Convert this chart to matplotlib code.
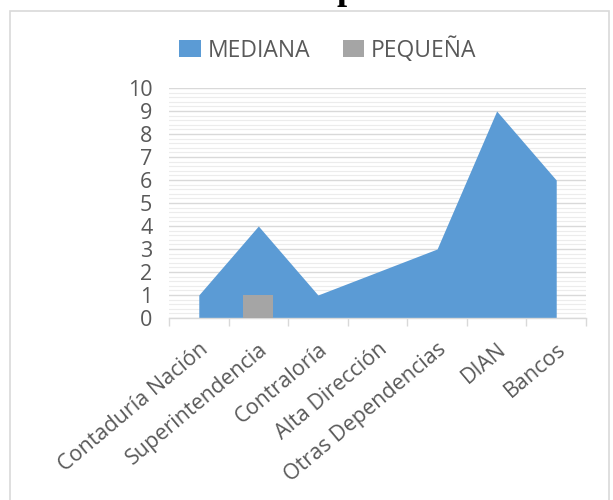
import matplotlib
matplotlib.use("Agg")
import matplotlib.pyplot as plt
from matplotlib.patches import Rectangle, Patch
from matplotlib.ticker import MultipleLocator, FixedLocator
import numpy as np

categories = ["Contaduría Nación", "Superintendencia", "Contraloría", "Alta Dirección",
              "Otras Dependencias", "DIAN", "Bancos"]
mediana = [1, 4, 1, 2, 3, 9, 6]
pequena = [0, 1, 0, 0, 0, 0, 0]
series_names = ["MEDIANA", "PEQUEÑA"]
yticks = list(range(0, 11))

BLUE = "#5b9bd5"
GRAY = "#a5a5a5"
TXT = "#595959"
FONT = ["Open Sans", "DejaVu Sans"]

W, H = 613, 500
fig = plt.figure(figsize=(W / 100, H / 100), dpi=100)

# chart frame
fig.patches.append(Rectangle((10 / W, -0.05), (609 - 10) / W, (H - 11) / H + 0.05,
                             transform=fig.transFigure, fill=False,
                             edgecolor="#d9d9d9", linewidth=1.2))

# cut-off title fragment
fig.text(347 / W, 1 + 1.5 / H, "p", family=["Liberation Serif", "DejaVu Serif"],
         fontweight="bold", fontsize=26, ha="center", va="baseline", color="black")

ax = fig.add_axes([169 / W, 1 - 318 / H, (586 - 169) / W, (318 - 88) / H])
x = np.arange(len(categories))
ax.fill_between(x, 0, mediana, color=BLUE, linewidth=0, zorder=2)
ax.bar(x, pequena, width=0.5, color=GRAY, zorder=3)

ax.set_xlim(-0.5, len(categories) - 0.5)
ax.set_ylim(0, 10)
ax.set_yticks(yticks)
ax.yaxis.set_minor_locator(MultipleLocator(0.2))
ax.grid(axis="y", which="minor", color="#ececec", linewidth=0.8, zorder=0)
ax.grid(axis="y", which="major", color="#d9d9d9", linewidth=1.0, zorder=0)
ax.set_axisbelow(True)

ax.set_xticks(x)
ax.set_xticklabels(categories, rotation=40, ha="right", rotation_mode="anchor",
                   family=FONT, fontsize=15.5, color=TXT)
ax.xaxis.set_minor_locator(FixedLocator(np.arange(-0.5, len(categories), 1.0)))
ax.tick_params(axis="x", which="major", length=0, pad=15)
ax.tick_params(axis="x", which="minor", length=6, color="#d9d9d9", width=1)
ax.tick_params(axis="y", which="both", length=0, pad=12)
for lab in ax.get_yticklabels():
    lab.set_family(FONT)
    lab.set_fontsize(15.5)
    lab.set_color(TXT)

for s in ["top", "right", "left"]:
    ax.spines[s].set_visible(False)
ax.spines["bottom"].set_color("#d9d9d9")
ax.spines["bottom"].set_linewidth(1.0)

handles = [Patch(facecolor=BLUE, edgecolor="none"), Patch(facecolor=GRAY, edgecolor="none")]
fig.legend(handles, series_names, loc="center", bbox_to_anchor=(328 / W, 1 - 50 / H),
           ncol=2, frameon=False, prop={"family": FONT, "size": 16.5},
           labelcolor=TXT, handlelength=0.95, handleheight=0.75,
           handletextpad=0.3, columnspacing=1.4)

fig.savefig("out.png", dpi=100)
